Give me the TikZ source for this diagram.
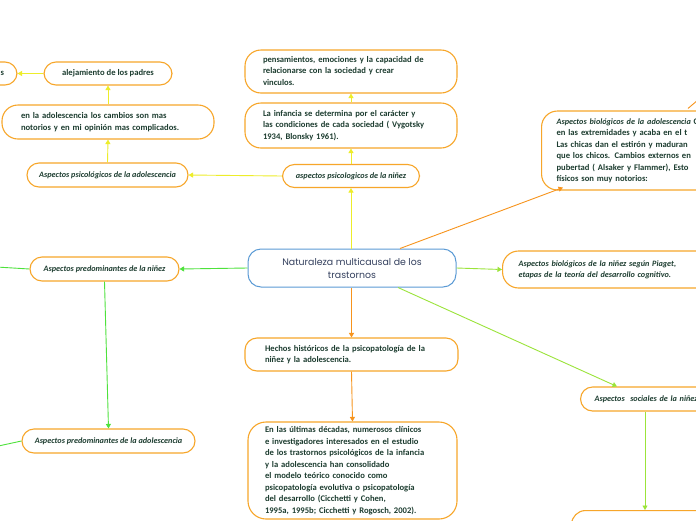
\documentclass[tikz,border=0pt]{standalone}
\usepackage{fontspec}
\setmainfont{Carlito}
\newfontfamily\ctrfont{Poppins}
\usetikzlibrary{arrows.meta,calc}
\definecolor{yel}{HTML}{EDED2A}
\definecolor{boxor}{HTML}{F7A62A}
\definecolor{conor}{HTML}{F7941D}
\definecolor{grn}{HTML}{4EE23C}
\definecolor{lime}{HTML}{9BE43A}
\definecolor{ctrblue}{HTML}{5B9BD5}
\definecolor{txt}{HTML}{1D3D30}
\definecolor{ctrtxt}{HTML}{34405E}
\newcommand\txtlines[1]{\begin{tabular}{@{}l@{}}#1\end{tabular}}
\tikzset{
  box/.style={draw=boxor, line width=1.1pt, fill=white, rounded corners=12pt, text=txt,
    font=\bfseries\fontsize{8.6}{11.5}\selectfont, align=left, inner ysep=0pt},
  hand/.style={font=\bfseries\itshape\fontsize{8.2}{11.5}\selectfont},
  tipp/.style={-{Triangle[width=5pt,length=4.5pt]}},
  yl/.style={draw=yel, line width=0.9pt, tipp},
  gl/.style={draw=grn, line width=0.9pt, tipp},
  ll/.style={draw=lime, line width=0.9pt, tipp},
  ol/.style={draw=conor, line width=0.9pt, tipp},
}
\begin{document}
\begin{tikzpicture}[x=1pt,y=-1pt]
\useasboundingbox (0,0) rectangle (696,520);
\clip (0,0) rectangle (696,520);
\fill[white] (0,0) rectangle (696,520);

% centre
\node[draw=ctrblue, line width=1pt, fill=white, rounded corners=13pt, minimum width=208pt,
  minimum height=38pt, align=center, text=ctrtxt, inner ysep=0pt,
  font=\ctrfont\fontsize{9.4}{13}\selectfont] (center) at (352,268)
  {Naturaleza multicausal de los\\trastornos};

% upper chain
\node[box, hand, minimum width=137pt, minimum height=23pt] (psn) at (351,176) {aspectos psicologicos de la niñez};
\node[box, rounded corners=16pt, minimum width=212pt, minimum height=45pt, text width=176pt] (inf) at (351,125.5)
  {\txtlines{La infancia se determina por el carácter y\\las condiciones de cada sociedad ( Vygotsky\\1934, Blonsky 1961).}};
\node[box, rounded corners=16pt, minimum width=212pt, minimum height=43pt, text width=176pt] (pens) at (351,71.5)
  {\txtlines{pensamientos, emociones y la capacidad de\\relacionarse con la sociedad y crear\\vinculos.}};

% left upper
\node[box, hand, minimum width=161pt, minimum height=24pt] (psa) at (107.5,175) {Aspectos psicológicos de la adolescencia};
\node[box, rounded corners=16pt, minimum width=212pt, minimum height=34pt, text width=174pt] (ena) at (108,122)
  {\txtlines{en la adolescencia los cambios son mas\\notorios y en mi opinión mas complicados.}};
\node[box, minimum width=128pt, minimum height=23pt] (alej) at (108,73.5) {alejamiento de los padres};
\node[box, minimum width=77pt, minimum height=23pt, text width=51pt, align=right] (lefts) at (-21.5,73.5) {s};

% left lower
\node[box, hand, minimum width=149pt, minimum height=24pt] (pdn) at (104.5,269) {Aspectos predominantes de la niñez};
\node[box, hand, minimum width=173pt, minimum height=24pt] (pda) at (108.5,441) {Aspectos predominantes de la adolescencia};
\coordinate (offa) at (-20,266);
\coordinate (offb) at (-20,450);

% lower chain
\node[box, minimum width=213pt, minimum height=33pt, text width=173pt] (hech) at (351.5,354.5)
  {\txtlines{Hechos históricos de la psicopatología de la\\niñez y la adolescencia.}};
\node[box, rounded corners=18pt, minimum width=209pt, minimum height=97pt, text width=175pt] (ult) at (352.5,470.5)
  {\txtlines{En las últimas décadas, numerosos clínicos\\e investigadores interesados en el estudio\\de los trastornos psicológicos de la infancia\\y la adolescencia han consolidado\\el modelo teórico conocido como\\psicopatología evolutiva o psicopatología\\del desarrollo (Cicchetti y Cohen,\\1995a, 1995b; Cicchetti y Rogosch, 2002).}};

% right
\node[box, hand, rounded corners=16pt, anchor=west, minimum height=37pt, inner xsep=16pt, text width=210pt] (bion) at (502,269.5)
  {\txtlines{Aspectos biológicos de la niñez según Piaget,\\etapas de la teoría del desarrollo cognitivo.}};
\node[box, rounded corners=16pt, anchor=west, minimum height=79pt, inner xsep=15pt, text width=200pt] (bioa) at (541,150.5)
  {\txtlines{{\itshape\fontsize{8.2}{11.5}\selectfont Aspectos biológicos de la adolescencia} Co\\en las extremidades y acaba en el t\\Las chicas dan el estirón y maduran\\que los chicos. Cambios externos en\\pubertad ( Alsaker y Flammer), Esto\\físicos son muy notorios:}};
\node[box, hand, anchor=west, minimum height=24pt, inner xsep=14pt, text width=150pt] (psoc) at (580,399)
  {\txtlines{Aspectos\ \ sociales de la niñez}};
\node[box, rounded corners=14pt, anchor=north west, minimum height=30pt, minimum width=200pt] (bot) at (571,510) {};
\coordinate (offr) at (712,88);

% connectors
\draw[yl] (psn |- center.north) -- (psn.south);
\draw[yl] (psn.north) -- (inf.south);
\draw[yl] (inf.north) -- (pens.south);
\draw[yl] (psn.west) -- (psa.east);
\draw[yl] (psa.north) -- (ena.south);
\draw[yl] (ena.north) -- (alej.south);
\draw[yl] (alej.west) -- (lefts.east);

\draw[gl] (center.west) -- (pdn.east);
\draw[draw=grn, line width=0.9pt] (pdn.west) -- (offa);
\draw[gl] (pdn.south) -- (pda.north);
\draw[draw=grn, line width=0.9pt] (pda.west) -- (offb);

\draw[ol] (hech.north |- center.south) -- (hech.north);
\draw[ol] (hech.south) -- (ult.north);

\draw[ll] (center.east) -- (bion.west);
\draw[ol] ($(center.north)+(48,0)$) -- ($(bioa.south west)+(22,-3)$);
\draw[draw=conor, line width=0.9pt] ($(bioa.north west)+(147,-2)$) -- (offr);
\draw[ll] ($(center.south)+(46,0)$) -- ($(psoc.north west)+(37,0)$);
\draw[ll] ($(psoc.south west)+(65,0)$) -- ($(bot.north west)+(74,0)$);
\end{tikzpicture}
\end{document}
